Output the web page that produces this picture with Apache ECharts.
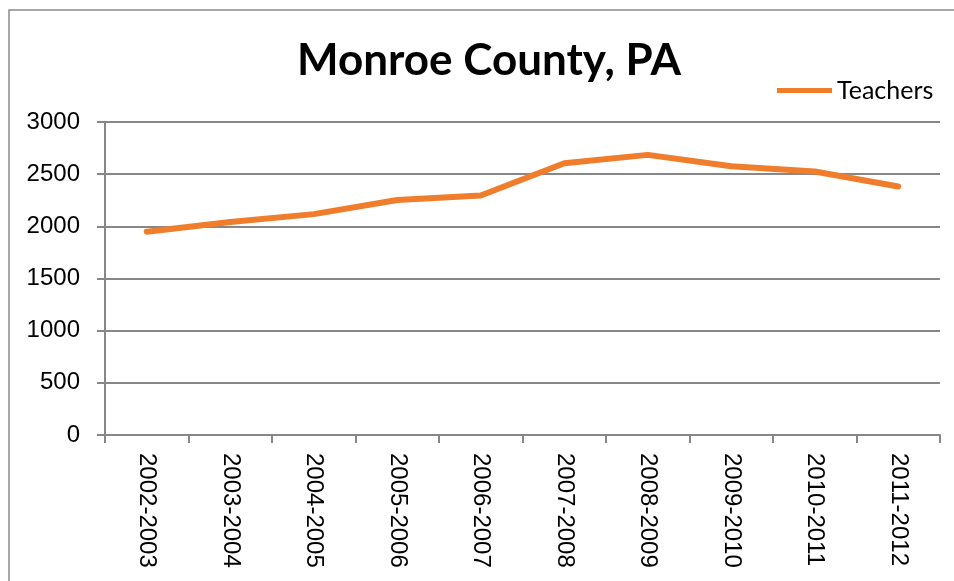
<!DOCTYPE html>
<html lang="en">
<head>
  <meta charset="UTF-8">
  <title>Monroe County, PA</title>
  <script src="https://cdn.jsdelivr.net/npm/echarts@6/dist/echarts.min.js"></script>
</head>
<style>
    html, body { margin: 0; padding: 0; background: #fff; }
    #main {
        width: 954px;
        height: 581px;
    }
</style>
<body>
<div id="main"></div>
<script>
  // school years on the x axis
  let years = ['2002-2003', '2003-2004', '2004-2005', '2005-2006', '2006-2007',
    '2007-2008', '2008-2009', '2009-2010', '2010-2011', '2011-2012']
  // number of teachers
  let teachers = [1948, 2042, 2117, 2252, 2295, 2605, 2685, 2575, 2525, 2382]

  const gray = '#878787'
  const chart = echarts.init(document.getElementById('main'))
  chart.setOption({
    animation: false,
    backgroundColor: '#fff',
    // the thin frame round the whole chart (cut off on the right and bottom)
    graphic: [{
      type: 'rect',
      shape: { x: 9, y: 10, width: 980, height: 620 },
      style: { fill: 'none', stroke: '#8a8a8a', lineWidth: 1.5 },
      silent: true
    }],
    title: {
      text: 'Monroe County, PA',
      left: 292,
      top: 34,
      textStyle: {
        fontFamily: 'Lato',
        fontWeight: 'bold',
        fontSize: 44,
        color: '#000'
      }
    },
    legend: {
      data: [{ name: 'Teachers', icon: 'rect' }],
      left: 772,
      top: 73,
      itemWidth: 55,
      itemHeight: 5,
      itemGap: 6,
      textStyle: {
        fontFamily: 'Lato',
        fontSize: 25,
        color: '#000',
        padding: [0, 0, 0, 0]
      }
    },
    grid: {
      left: 105,
      right: 14,
      top: 122,
      bottom: 146
    },
    xAxis: {
      type: 'category',
      data: years,
      boundaryGap: true,
      axisLine: { lineStyle: { color: gray, width: 2 } },
      axisTick: { show: true, length: 8, lineStyle: { color: gray, width: 2 } },
      axisLabel: {
        rotate: -90,
        margin: 18,
        fontFamily: 'Liberation Sans',
        fontSize: 24,
        color: '#000'
      }
    },
    yAxis: {
      type: 'value',
      min: 0,
      max: 3000,
      interval: 500,
      axisLine: { show: true, lineStyle: { color: gray, width: 2 } },
      axisTick: { show: true, length: 8, lineStyle: { color: gray, width: 2 } },
      splitLine: { lineStyle: { color: gray, width: 2 } },
      axisLabel: {
        margin: 25,
        fontFamily: 'Liberation Sans',
        fontSize: 24,
        color: '#000',
        formatter: v => String(v)
      }
    },
    series: [{
      name: 'Teachers',
      type: 'line',
      data: teachers,
      showSymbol: false,
      symbol: 'none',
      itemStyle: { color: '#EF7D2C' },
      lineStyle: { color: '#EF7D2C', width: 6, cap: 'round', join: 'round' }
    }]
  })
</script>
</body>
</html>
